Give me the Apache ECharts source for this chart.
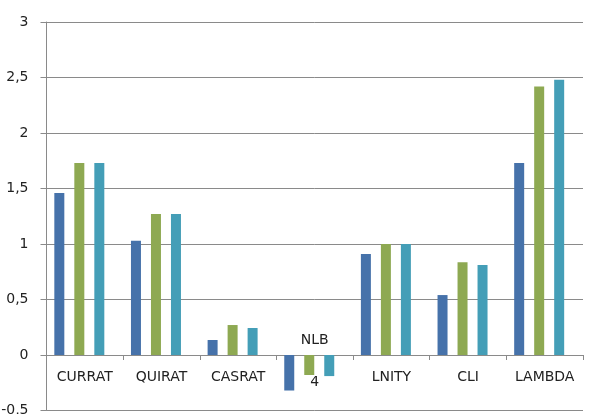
<!DOCTYPE html>
<html>
<head>
<meta charset="utf-8">
<script src="https://cdn.jsdelivr.net/npm/echarts@6/dist/echarts.min.js"></script>
<style>html,body{margin:0;padding:0;background:#fff;}#c{width:591px;height:414px;}</style>
</head>
<body>
<div id="c"></div>
<script>
const categories = ['CURRAT', 'QUIRAT', 'CASRAT', 'NLB\n\n4', 'LNITY', 'CLI', 'LAMBDA'];
const series1 = [1.46, 1.03, 0.135, -0.32, 0.91, 0.54, 1.73];
const series2 = [1.73, 1.27, 0.27, -0.18, 1.0, 0.835, 2.42];
const series3 = [1.73, 1.27, 0.243, -0.19, 1.0, 0.81, 2.48];
const yTicks = { min: -0.5, max: 3, interval: 0.5 };

const chart = echarts.init(document.getElementById('c'), null, { renderer: 'canvas' });
const font = 'DejaVu Sans';
const catData = categories.map(c => c.indexOf('\n') >= 0
  ? { value: c, textStyle: { lineHeight: 21, verticalAlign: 'middle' } }
  : c);
const barStyle = (color) => ({
  type: 'bar', barWidth: 10, barGap: '100%', itemStyle: { color: color }, silent: true
});
chart.setOption({
  animation: false,
  backgroundColor: '#ffffff',
  grid: { left: 46.5, right: 8, top: 22, bottom: 3.5, containLabel: false, outerBoundsMode: 'none' },
  xAxis: {
    type: 'category',
    data: catData,
    axisLine: { onZero: true, lineStyle: { color: '#8a8a8a', width: 1 } },
    axisTick: { show: true, inside: false, length: 5, alignWithLabel: false, lineStyle: { color: '#8a8a8a' } },
    axisLabel: { margin: -49, lineHeight: 32, verticalAlign: 'top', fontFamily: font, fontSize: 14, color: '#222', interval: 0, hideOverlap: false },
    splitLine: { show: false }
  },
  yAxis: {
    type: 'value',
    min: yTicks.min, max: yTicks.max, interval: yTicks.interval,
    axisLine: { show: true, lineStyle: { color: '#8a8a8a', width: 1 } },
    axisTick: { show: true, length: 6, lineStyle: { color: '#8a8a8a' } },
    axisLabel: { margin: 18, fontFamily: font, fontSize: 14, color: '#222',
      formatter: v => String(v).replace('.', ',') },
    splitLine: { show: true, lineStyle: { color: '#8a8a8a', width: 1 } }
  },
  series: [
    Object.assign(barStyle('#4672AA'), { name: 'S1', data: series1 }),
    Object.assign(barStyle('#8EA952'), { name: 'S2', data: series2 }),
    Object.assign(barStyle('#449EB7'), { name: 'S3', data: series3 }),
    { type: 'bar', name: 'spacer', barWidth: 1, data: categories.map(() => '-'), itemStyle: { color: 'rgba(0,0,0,0)' }, silent: true }
  ]
});
</script>
</body>
</html>
